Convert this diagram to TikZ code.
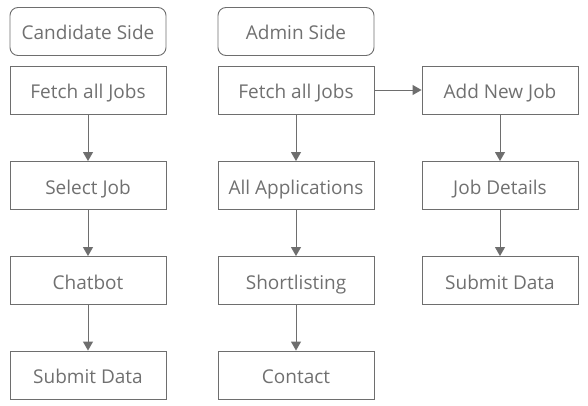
\documentclass[tikz,border=0pt]{standalone}
\usepackage{fontspec}
\setmainfont{Open Sans}
\usepackage{tikz}
\usetikzlibrary{shapes,arrows.meta,positioning}
\definecolor{linegray}{HTML}{6E6E6E}
\definecolor{textgray}{HTML}{707070}
\tikzset{
  box/.style={draw=linegray, line width=0.9pt, minimum width=156pt, minimum height=48pt,
    inner sep=0pt, text height=17pt, text depth=0pt, text=textgray,
    font=\fontsize{19}{22}\selectfont},
  headbox/.style={box, rounded corners=8pt},
  flow/.style={draw=linegray, line width=0.9pt, -{Triangle[width=10pt,length=9pt]}}
}

\begin{document}
\begin{tikzpicture}[x=1pt,y=-1pt]
\useasboundingbox (0,0) rectangle (588,406);
% candidate side
\node[headbox] (cand) at (88,31.5) {Candidate Side};
\node[box] (cfetch) at (88,90) {Fetch all Jobs};
\node[box] (cselect) at (88,185.5) {Select Job};
\node[box] (cchat) at (88,280.5) {Chatbot};
\node[box] (csubmit) at (88,375) {Submit Data};
% admin side
\node[headbox] (admin) at (296,31.5) {Admin Side};
\node[box] (afetch) at (296,90) {Fetch all Jobs};
\node[box] (aapps) at (296,185.5) {All Applications};
\node[box] (ashort) at (296,280.5) {Shortlisting};
\node[box] (acontact) at (296,375) {Contact};
\node[box] (anew) at (500,90) {Add New Job};
\node[box] (adetails) at (500,185.5) {Job Details};
\node[box] (asubmit) at (500,280.5) {Submit Data};

\draw[flow] (cfetch) -- (cselect);
\draw[flow] (cselect) -- (cchat);
\draw[flow] (cchat) -- (csubmit);
\draw[flow] (afetch) -- (aapps);
\draw[flow] (aapps) -- (ashort);
\draw[flow] (ashort) -- (acontact);
\draw[flow] (afetch) -- (anew);
\draw[flow] (anew) -- (adetails);
\draw[flow] (adetails) -- (asubmit);
\end{tikzpicture}
\end{document}
